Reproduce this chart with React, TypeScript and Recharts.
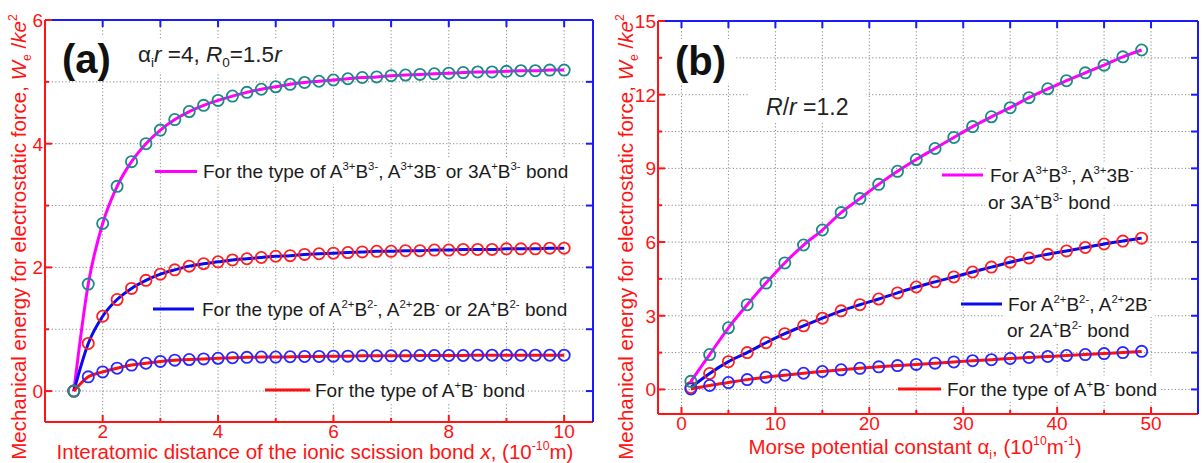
import React, { useLayoutEffect, useRef, useState } from 'react';
import { ComposedChart, Line, XAxis, YAxis, CartesianGrid } from 'recharts';

// ---------- Panel (a): energy vs. interatomic distance x ----------
const distanceX = [
  1.5, 1.75, 2, 2.25, 2.5, 2.75, 3, 3.25, 3.5, 3.75, 4, 4.25, 4.5, 4.75, 5, 5.25, 5.5, 5.75,
  6, 6.25, 6.5, 6.75, 7, 7.25, 7.5, 7.75, 8, 8.25, 8.5, 8.75, 9, 9.25, 9.5, 9.75, 10,
];
const distTripleBond = [
  0, 1.73, 2.71, 3.31, 3.71, 4.0, 4.22, 4.39, 4.52, 4.62, 4.7, 4.77, 4.83, 4.88, 4.92, 4.96, 4.99, 5.01,
  5.03, 5.05, 5.07, 5.08, 5.1, 5.11, 5.12, 5.13, 5.14, 5.15, 5.16, 5.16, 5.17, 5.18, 5.18, 5.19, 5.19,
];
const distDoubleBond = [
  0, 0.77, 1.21, 1.48, 1.66, 1.79, 1.89, 1.96, 2.02, 2.06, 2.09, 2.12, 2.14, 2.16, 2.18, 2.19, 2.21, 2.22,
  2.23, 2.24, 2.25, 2.26, 2.26, 2.27, 2.27, 2.28, 2.28, 2.29, 2.29, 2.29, 2.3, 2.3, 2.3, 2.31, 2.31,
];
const distSingleBond = [
  0, 0.23, 0.31, 0.37, 0.42, 0.45, 0.48, 0.5, 0.51, 0.52, 0.53, 0.54, 0.545, 0.55, 0.55, 0.555, 0.56, 0.56,
  0.565, 0.565, 0.57, 0.57, 0.57, 0.57, 0.575, 0.575, 0.575, 0.575, 0.58, 0.58, 0.58, 0.58, 0.58, 0.58, 0.58,
];
const distXTicks = [2, 3, 4, 5, 6, 7, 8, 9, 10];
const distXLabels = [2, 4, 6, 8, 10];
const distYTicks = [0, 1, 2, 3, 4, 5, 6];
const distYLabels = [0, 2, 4, 6];

// ---------- Panel (b): energy vs. Morse potential constant ----------
const morseX = [1, 3, 5, 7, 9, 11, 13, 15, 17, 19, 21, 23, 25, 27, 29, 31, 33, 35, 37, 39, 41, 43, 45, 47, 49];
const morseTripleBond = [
  0.33, 1.42, 2.51, 3.45, 4.33, 5.15, 5.88, 6.49, 7.2, 7.77, 8.35, 8.88, 9.36, 9.81, 10.26, 10.7, 11.1,
  11.47, 11.88, 12.24, 12.57, 12.89, 13.2, 13.54, 13.82,
];
const morseDoubleBond = [
  0.08, 0.65, 1.13, 1.5, 1.9, 2.27, 2.59, 2.9, 3.2, 3.45, 3.68, 3.93, 4.17, 4.38, 4.58, 4.78, 4.98, 5.18,
  5.35, 5.5, 5.64, 5.78, 5.92, 6.04, 6.16,
];
const morseSingleBond = [
  0.02, 0.16, 0.28, 0.4, 0.5, 0.58, 0.66, 0.73, 0.8, 0.86, 0.92, 0.97, 1.02, 1.07, 1.12, 1.17, 1.21, 1.26,
  1.3, 1.34, 1.38, 1.42, 1.46, 1.5, 1.55,
];
const morseXTicks = [0, 5, 10, 15, 20, 25, 30, 35, 40, 45, 50];
const morseXLabels = [0, 10, 20, 30, 40, 50];
const morseYTicks = [0, 1.5, 3, 4.5, 6, 7.5, 9, 10.5, 12, 13.5, 15];
const morseYLabels = [0, 3, 6, 9, 12, 15];

// ---------- styling ----------
const FONT = '"Liberation Sans", Arial, sans-serif';
const AXIS_RED = '#ff1414';
const AXIS_BLUE = '#1a1aff';
const MAGENTA = '#ff00ff';
const LINE_BLUE = '#0a0af0';
const LINE_RED = '#ff1010';
const TEAL = '#1b8a86';
const CIRCLE_RED = '#ff2020';
const CIRCLE_BLUE = '#2828ff';
const TEXT_DARK = '#1c1c1c';

type Pt = { x: number; y: number };
const zip = (xs: number[], ys: number[]): Pt[] => xs.map((x, i) => ({ x, y: ys[i] }));

type Side = 'left' | 'right' | 'top' | 'bottom';

// Inward-pointing tick marks, with numeric labels on the left/bottom axes only.
const makeTick = (side: Side, color: string, labelled: number[], fontSize: number) => (props: any) => {
  const { x, y, payload } = props;
  const v = payload.value;
  const major = labelled.includes(v);
  const len = side === 'left' || side === 'bottom' ? (major ? 7 : 4) : 7;
  let x2 = x;
  let y2 = y;
  if (side === 'bottom') y2 = y - len;
  else if (side === 'top') y2 = y + len;
  else if (side === 'left') x2 = x + len;
  else x2 = x - len;
  const showText = major && (side === 'left' || side === 'bottom');
  return (
    <g>
      <line x1={x} y1={y} x2={x2} y2={y2} stroke={color} strokeWidth={2} />
      {showText &&
        (side === 'bottom' ? (
          <text x={x} y={y + 2 + fontSize * 0.72} textAnchor="middle" fill={AXIS_RED} fontSize={fontSize} fontFamily={FONT}>
            {v}
          </text>
        ) : (
          <text x={x - 2} y={y + fontSize * 0.36} textAnchor="end" fill={AXIS_RED} fontSize={fontSize} fontFamily={FONT}>
            {v}
          </text>
        ))}
    </g>
  );
};

type SeriesSpec = { data: Pt[]; color: string; kind: 'circles' | 'curve' };

type PanelProps = {
  width: number;
  height: number;
  // plot-area edges in chart pixels
  plot: { left: number; top: number; right: number; bottom: number };
  xDomain: [number, number];
  yDomain: [number, number];
  xTicks: number[];
  xLabels: number[];
  yTicks: number[];
  yLabels: number[];
  series: SeriesSpec[];
};

function Panel(p: PanelProps) {
  const fs = 19;
  // every axis takes a 1px band, so margins are trimmed by one pixel
  const margin = {
    top: p.plot.top - 1,
    left: p.plot.left - 1,
    right: p.width - p.plot.right - 1,
    bottom: p.height - p.plot.bottom - 1,
  };
  return (
    <ComposedChart width={p.width} height={p.height} margin={margin}>
      <CartesianGrid stroke="#8a8a8a" strokeDasharray="1.2 2.2" strokeWidth={1} />
      <XAxis
        type="number"
        dataKey="x"
        domain={p.xDomain}
        ticks={p.xTicks}
        interval={0}
        allowDataOverflow
        height={1}
        tickSize={0}
        tickMargin={0}
        tickLine={false}
        axisLine={{ stroke: AXIS_RED, strokeWidth: 2 }}
        tick={makeTick('bottom', AXIS_RED, p.xLabels, fs)}
      />
      <XAxis
        xAxisId="top"
        orientation="top"
        type="number"
        dataKey="x"
        domain={p.xDomain}
        ticks={p.xTicks}
        interval={0}
        allowDataOverflow
        height={1}
        tickSize={0}
        tickMargin={0}
        tickLine={false}
        axisLine={{ stroke: AXIS_BLUE, strokeWidth: 2 }}
        tick={makeTick('top', AXIS_BLUE, p.xLabels, fs)}
      />
      <YAxis
        type="number"
        domain={p.yDomain}
        ticks={p.yTicks}
        interval={0}
        allowDataOverflow
        width={1}
        tickSize={0}
        tickMargin={0}
        tickLine={false}
        axisLine={{ stroke: AXIS_RED, strokeWidth: 2 }}
        tick={makeTick('left', AXIS_RED, p.yLabels, fs)}
      />
      <YAxis
        yAxisId="right"
        orientation="right"
        type="number"
        domain={p.yDomain}
        ticks={p.yTicks}
        interval={0}
        allowDataOverflow
        width={1}
        tickSize={0}
        tickMargin={0}
        tickLine={false}
        axisLine={{ stroke: AXIS_BLUE, strokeWidth: 2 }}
        tick={makeTick('right', AXIS_BLUE, p.yLabels, fs)}
      />
      {p.series.map((s, i) =>
        s.kind === 'circles' ? (
          <Line
            key={i}
            data={s.data}
            dataKey="y"
            stroke="none"
            isAnimationActive={false}
            dot={{ r: 5.6, stroke: s.color, strokeWidth: 1.8, fill: 'none' }}
            activeDot={false}
          />
        ) : (
          <Line
            key={i}
            data={s.data}
            dataKey="y"
            type="monotone"
            stroke={s.color}
            strokeWidth={3}
            dot={false}
            activeDot={false}
            isAnimationActive={false}
          />
        )
      )}
    </ComposedChart>
  );
}

// ---------- rich text (super/subscripts, italics) ----------
type Part = { t: string; sup?: boolean; sub?: boolean; it?: boolean };
function parseRich(s: string): Part[] {
  const parts: Part[] = [];
  let buf = '';
  let i = 0;
  const flush = () => {
    if (buf) parts.push({ t: buf });
    buf = '';
  };
  while (i < s.length) {
    const c = s[i];
    if ((c === '^' || c === '_' || c === '~') && s[i + 1] === '{') {
      flush();
      const end = s.indexOf('}', i);
      parts.push({ t: s.slice(i + 2, end), sup: c === '^', sub: c === '_', it: c === '~' });
      i = end + 1;
    } else {
      buf += c;
      i++;
    }
  }
  flush();
  return parts;
}

type LabelProps = {
  x: number;
  y: number;
  text: string;
  size: number;
  fill?: string;
  weight?: string;
  anchor?: 'start' | 'middle' | 'end';
  rotate?: number;
  pad?: [number, number, number, number];
};

function Label({ x, y, text, size, fill = TEXT_DARK, weight = 'normal', anchor = 'start', rotate = 0, pad }: LabelProps) {
  const ref = useRef<SVGTextElement>(null);
  const [box, setBox] = useState<{ x: number; y: number; w: number; h: number } | null>(null);
  useLayoutEffect(() => {
    if (pad && ref.current) {
      const b = ref.current.getBBox();
      setBox({ x: b.x - pad[0], y: b.y - pad[1], w: b.width + pad[0] + pad[2], h: b.height + pad[1] + pad[3] });
    }
  }, []);
  let shift = 0;
  const spans = parseRich(text).map((p, i) => {
    const target = p.sup ? -0.42 * size : p.sub ? 0.22 * size : 0;
    const dy = target - shift;
    shift = target;
    return (
      <tspan key={i} dy={dy} fontSize={p.sup || p.sub ? size * 0.6 : size} fontStyle={p.it ? 'italic' : 'normal'}>
        {p.t}
      </tspan>
    );
  });
  return (
    <g transform={`translate(${x},${y}) rotate(${rotate})`}>
      {box && <rect x={box.x} y={box.y} width={box.w} height={box.h} fill="#ffffff" />}
      <text ref={ref} x={0} y={0} fontSize={size} fontFamily={FONT} fontWeight={weight} fill={fill} textAnchor={anchor}>
        {spans}
      </text>
    </g>
  );
}

const Seg = ({ x1, x2, y, color }: { x1: number; x2: number; y: number; color: string }) => (
  <line x1={x1} x2={x2} y1={y} y2={y} stroke={color} strokeWidth={3} />
);

export default function App() {
  const W = 1203;
  const H = 463;
  const yTitle = 'Mechanical energy for electrostatic force, ~{W}_{e} /~{ke}^{2}';
  const LEG = 19;
  const TITLE = 20.5;
  return (
    <div style={{ position: 'absolute', left: 0, top: 0, width: W, height: H, background: '#fff', overflow: 'hidden' }}>
      <div style={{ position: 'absolute', left: 0, top: 0 }}>
        <Panel
          width={600}
          height={H}
          plot={{ left: 45, top: 20, right: 593, bottom: 422 }}
          xDomain={[1, 10.5]}
          yDomain={[-0.5, 6]}
          xTicks={distXTicks}
          xLabels={distXLabels}
          yTicks={distYTicks}
          yLabels={distYLabels}
          series={[
            { data: zip(distanceX, distSingleBond), color: CIRCLE_BLUE, kind: 'circles' },
            { data: zip(distanceX, distDoubleBond), color: CIRCLE_RED, kind: 'circles' },
            { data: zip(distanceX, distTripleBond), color: TEAL, kind: 'circles' },
            { data: zip(distanceX, distTripleBond), color: MAGENTA, kind: 'curve' },
            { data: zip(distanceX, distDoubleBond), color: LINE_BLUE, kind: 'curve' },
            { data: zip(distanceX, distSingleBond), color: LINE_RED, kind: 'curve' },
          ]}
        />
      </div>
      <div style={{ position: 'absolute', left: 600, top: 0 }}>
        <Panel
          width={603}
          height={H}
          plot={{ left: 58, top: 21, right: 598, bottom: 414 }}
          xDomain={[-2.5, 55]}
          yDomain={[-1, 15]}
          xTicks={morseXTicks}
          xLabels={morseXLabels}
          yTicks={morseYTicks}
          yLabels={morseYLabels}
          series={[
            { data: zip(morseX, morseDoubleBond), color: CIRCLE_RED, kind: 'circles' },
            { data: zip(morseX, morseSingleBond), color: CIRCLE_BLUE, kind: 'circles' },
            { data: zip(morseX, morseTripleBond), color: TEAL, kind: 'circles' },
            { data: zip(morseX, morseTripleBond), color: MAGENTA, kind: 'curve' },
            { data: zip(morseX, morseDoubleBond), color: LINE_BLUE, kind: 'curve' },
            { data: zip(morseX, morseSingleBond), color: LINE_RED, kind: 'curve' },
          ]}
        />
      </div>
      <svg width={W} height={H} style={{ position: 'absolute', left: 0, top: 0, pointerEvents: 'none' }}>
        {/* panel (a) annotations */}
        <Label x={62} y={73} text="(a)" size={40} weight="bold" fill="#111" pad={[4, 0, 4, 0]} />
        <Label x={138} y={62} text="α_{i}~{r} =4, ~{R}_{0}=1.5~{r}" size={22.5} fill="#222" pad={[6, 3, 6, 2]} />
        <Seg x1={155} x2={197} y={171.5} color={MAGENTA} />
        <Label x={203} y={178} text="For the type of A^{3+}B^{3-}, A^{3+}3B^{-} or 3A^{+}B^{3-} bond" size={LEG} pad={[3, 2, 3, 2]} />
        <Seg x1={153} x2={194} y={309} color={LINE_BLUE} />
        <Label x={202} y={315.5} text="For the type of A^{2+}B^{2-}, A^{2+}2B^{-} or 2A^{+}B^{2-} bond" size={LEG} pad={[3, 2, 3, 2]} />
        <Seg x1={265} x2={310} y={390} color={LINE_RED} />
        <Label x={315} y={396.5} text="For the type of A^{+}B^{-} bond" size={LEG} pad={[3, 2, 3, 2]} />
        <Label x={26} y={237} rotate={-90} anchor="middle" text={yTitle} size={TITLE} fill={AXIS_RED} />
        <Label x={315} y={458.5} anchor="middle" text="Interatomic distance of the ionic scission bond ~{x}, (10^{-10}m)" size={TITLE} fill={AXIS_RED} />

        {/* panel (b) annotations */}
        <Label x={675} y={75} text="(b)" size={40} weight="bold" fill="#111" pad={[10, 0, 10, 0]} />
        <Label x={766} y={115} text="~{R}/~{r} =1.2" size={23} fill="#222" pad={[18, 3, 18, 2]} />
        <Seg x1={942} x2={983} y={175} color={MAGENTA} />
        <Label x={990} y={181.5} text="For A^{3+}B^{3-}, A^{3+}3B^{-}" size={LEG} pad={[3, 2, 3, 2]} />
        <Label x={988} y={208.5} text="or 3A^{+}B^{3-} bond" size={LEG} pad={[3, 2, 3, 2]} />
        <Seg x1={961} x2={1002} y={304} color={LINE_BLUE} />
        <Label x={1008} y={310.5} text="For A^{2+}B^{2-}, A^{2+}2B^{-}" size={LEG} pad={[3, 2, 3, 2]} />
        <Label x={1007} y={336.5} text="or 2A^{+}B^{2-} bond" size={LEG} pad={[3, 2, 3, 2]} />
        <Seg x1={898} x2={941} y={389} color={LINE_RED} />
        <Label x={947} y={395.5} text="For the type of A^{+}B^{-} bond" size={LEG} pad={[3, 2, 3, 2]} />
        <Label x={633} y={237} rotate={-90} anchor="middle" text={yTitle} size={TITLE} fill={AXIS_RED} />
        <Label x={915} y={454} anchor="middle" text="Morse potential constant α_{i}, (10^{10}m^{-1})" size={TITLE} fill={AXIS_RED} />
      </svg>
    </div>
  );
}
